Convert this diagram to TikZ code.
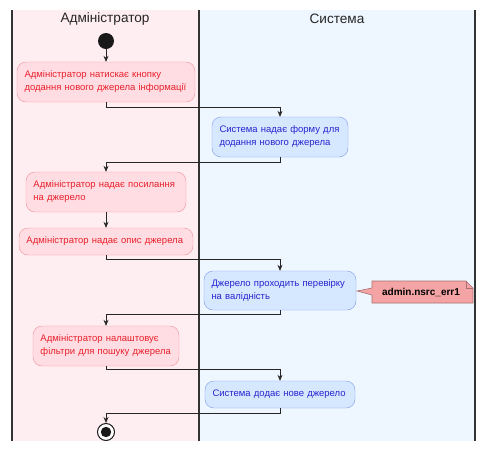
\documentclass[tikz,border=0pt]{standalone}
\usepackage{fontspec}
\setmainfont{Liberation Sans}
\usetikzlibrary{arrows.meta}

\definecolor{adminlane}{HTML}{FFEEF1}
\definecolor{syslane}{HTML}{EEF6FF}
\definecolor{adminfill}{HTML}{FFDDE2}
\definecolor{admindraw}{HTML}{F0909C}
\definecolor{admintext}{HTML}{E8202C}
\definecolor{sysfill}{HTML}{D6E8FF}
\definecolor{sysdraw}{HTML}{7F9AE8}
\definecolor{systext}{HTML}{2424D0}
\definecolor{notefill}{HTML}{F4A4A4}
\definecolor{notedraw}{HTML}{A87070}

\begin{document}
\begin{tikzpicture}[x=1pt, y=-1pt,
        act/.style={rectangle, rounded corners=9pt, align=left, inner xsep=0pt,
            font=\fontsize{9.5}{13}\selectfont},
        adminact/.style={act, draw=admindraw, fill=adminfill, text=admintext},
        sysact/.style={act, draw=sysdraw, fill=sysfill, text=systext},
        flow/.style={-{Stealth[length=6pt, width=5pt, inset=2pt]}, line width=0.7pt, black!85},
        lanehead/.style={font=\fontsize{13.6}{16}\selectfont, text=black!85}
    ]
    \useasboundingbox (0,0) rectangle (491,451);

    % swimlanes
    \fill[adminlane] (12,10) rectangle (199,441);
    \fill[syslane] (199,10) rectangle (475,441);
    \draw[line width=1.1pt, black!80] (12,10) -- (12,441);
    \draw[line width=1.1pt, black!80] (199,10) -- (199,441);
    \draw[line width=1.1pt, black!80] (475,10) -- (475,441);
    \node[lanehead] (h1) at (105,19) {Адміністратор};
    \node[lanehead] (h2) at (337,19) {Система};

    \node[circle, fill=black!90, minimum size=16pt, inner sep=0pt] (st) at (106,41) {};

    \node[adminact, minimum width=178pt, minimum height=40pt, text width=163pt] (a1) at (106,82)
        {Адміністратор натискає кнопку\\додання нового джерела інформації};
    \node[sysact, minimum width=136pt, minimum height=40pt, text width=121pt] (s1) at (280,137)
        {Система надає форму для\\додання нового джерела};
    \node[adminact, minimum width=160pt, minimum height=40pt, text width=145pt] (a2) at (106,192)
        {Адміністратор надає посилання\\на джерело};
    \node[adminact, minimum width=174pt, minimum height=27pt, text width=159pt] (a3) at (106,241.5)
        {Адміністратор надає опис джерела};
    \node[sysact, minimum width=152pt, minimum height=39pt, text width=137pt] (s2) at (280,290.5)
        {Джерело проходить перевірку\\на валідність};
    \node[adminact, minimum width=146pt, minimum height=40pt, text width=131pt] (a4) at (106,346)
        {Адміністратор налаштовує\\фільтри для пошуку джерела};
    \node[sysact, minimum width=150pt, minimum height=27pt, text width=135pt] (s3) at (280,394.5)
        {Система додає нове джерело};

    \node[circle, draw=black!90, line width=1pt, fill=white, minimum size=17pt, inner sep=0pt,
        path picture={\fill[black!90] (path picture bounding box.center) circle (5.2pt);}] (en) at (106,432) {};

    % note
    \draw[notedraw, fill=notefill, line width=0.6pt] (372,281) -- (466,281) -- (473,288) -- (473,303)
        -- (372,303) -- (372,295) -- (357,291) -- (372,288) -- cycle;
    \draw[notedraw, line width=0.6pt] (466,281) -- (466,288) -- (473,288);
    \node[font=\bfseries\fontsize{10}{12}\selectfont] (n1) at (421,292) {admin.nsrc\_err1};

    \draw[flow] (st) -- (a1);
    \draw[flow] (a1.south) -- ++(0,5) -| (s1.north);
    \draw[flow] (s1.south) -- ++(0,5) -| (a2.north);
    \draw[flow] (a2) -- (a3);
    \draw[flow] (a3.south) -- ++(0,4) -| (s2.north);
    \draw[flow] (s2.south) -- ++(0,4) -| (a4.north);
    \draw[flow] (a4.south) -- ++(0,3) -| (s3.north);
    \draw[flow] (s3.south) -- ++(0,5) -| (en.north);
\end{tikzpicture}
\end{document}
